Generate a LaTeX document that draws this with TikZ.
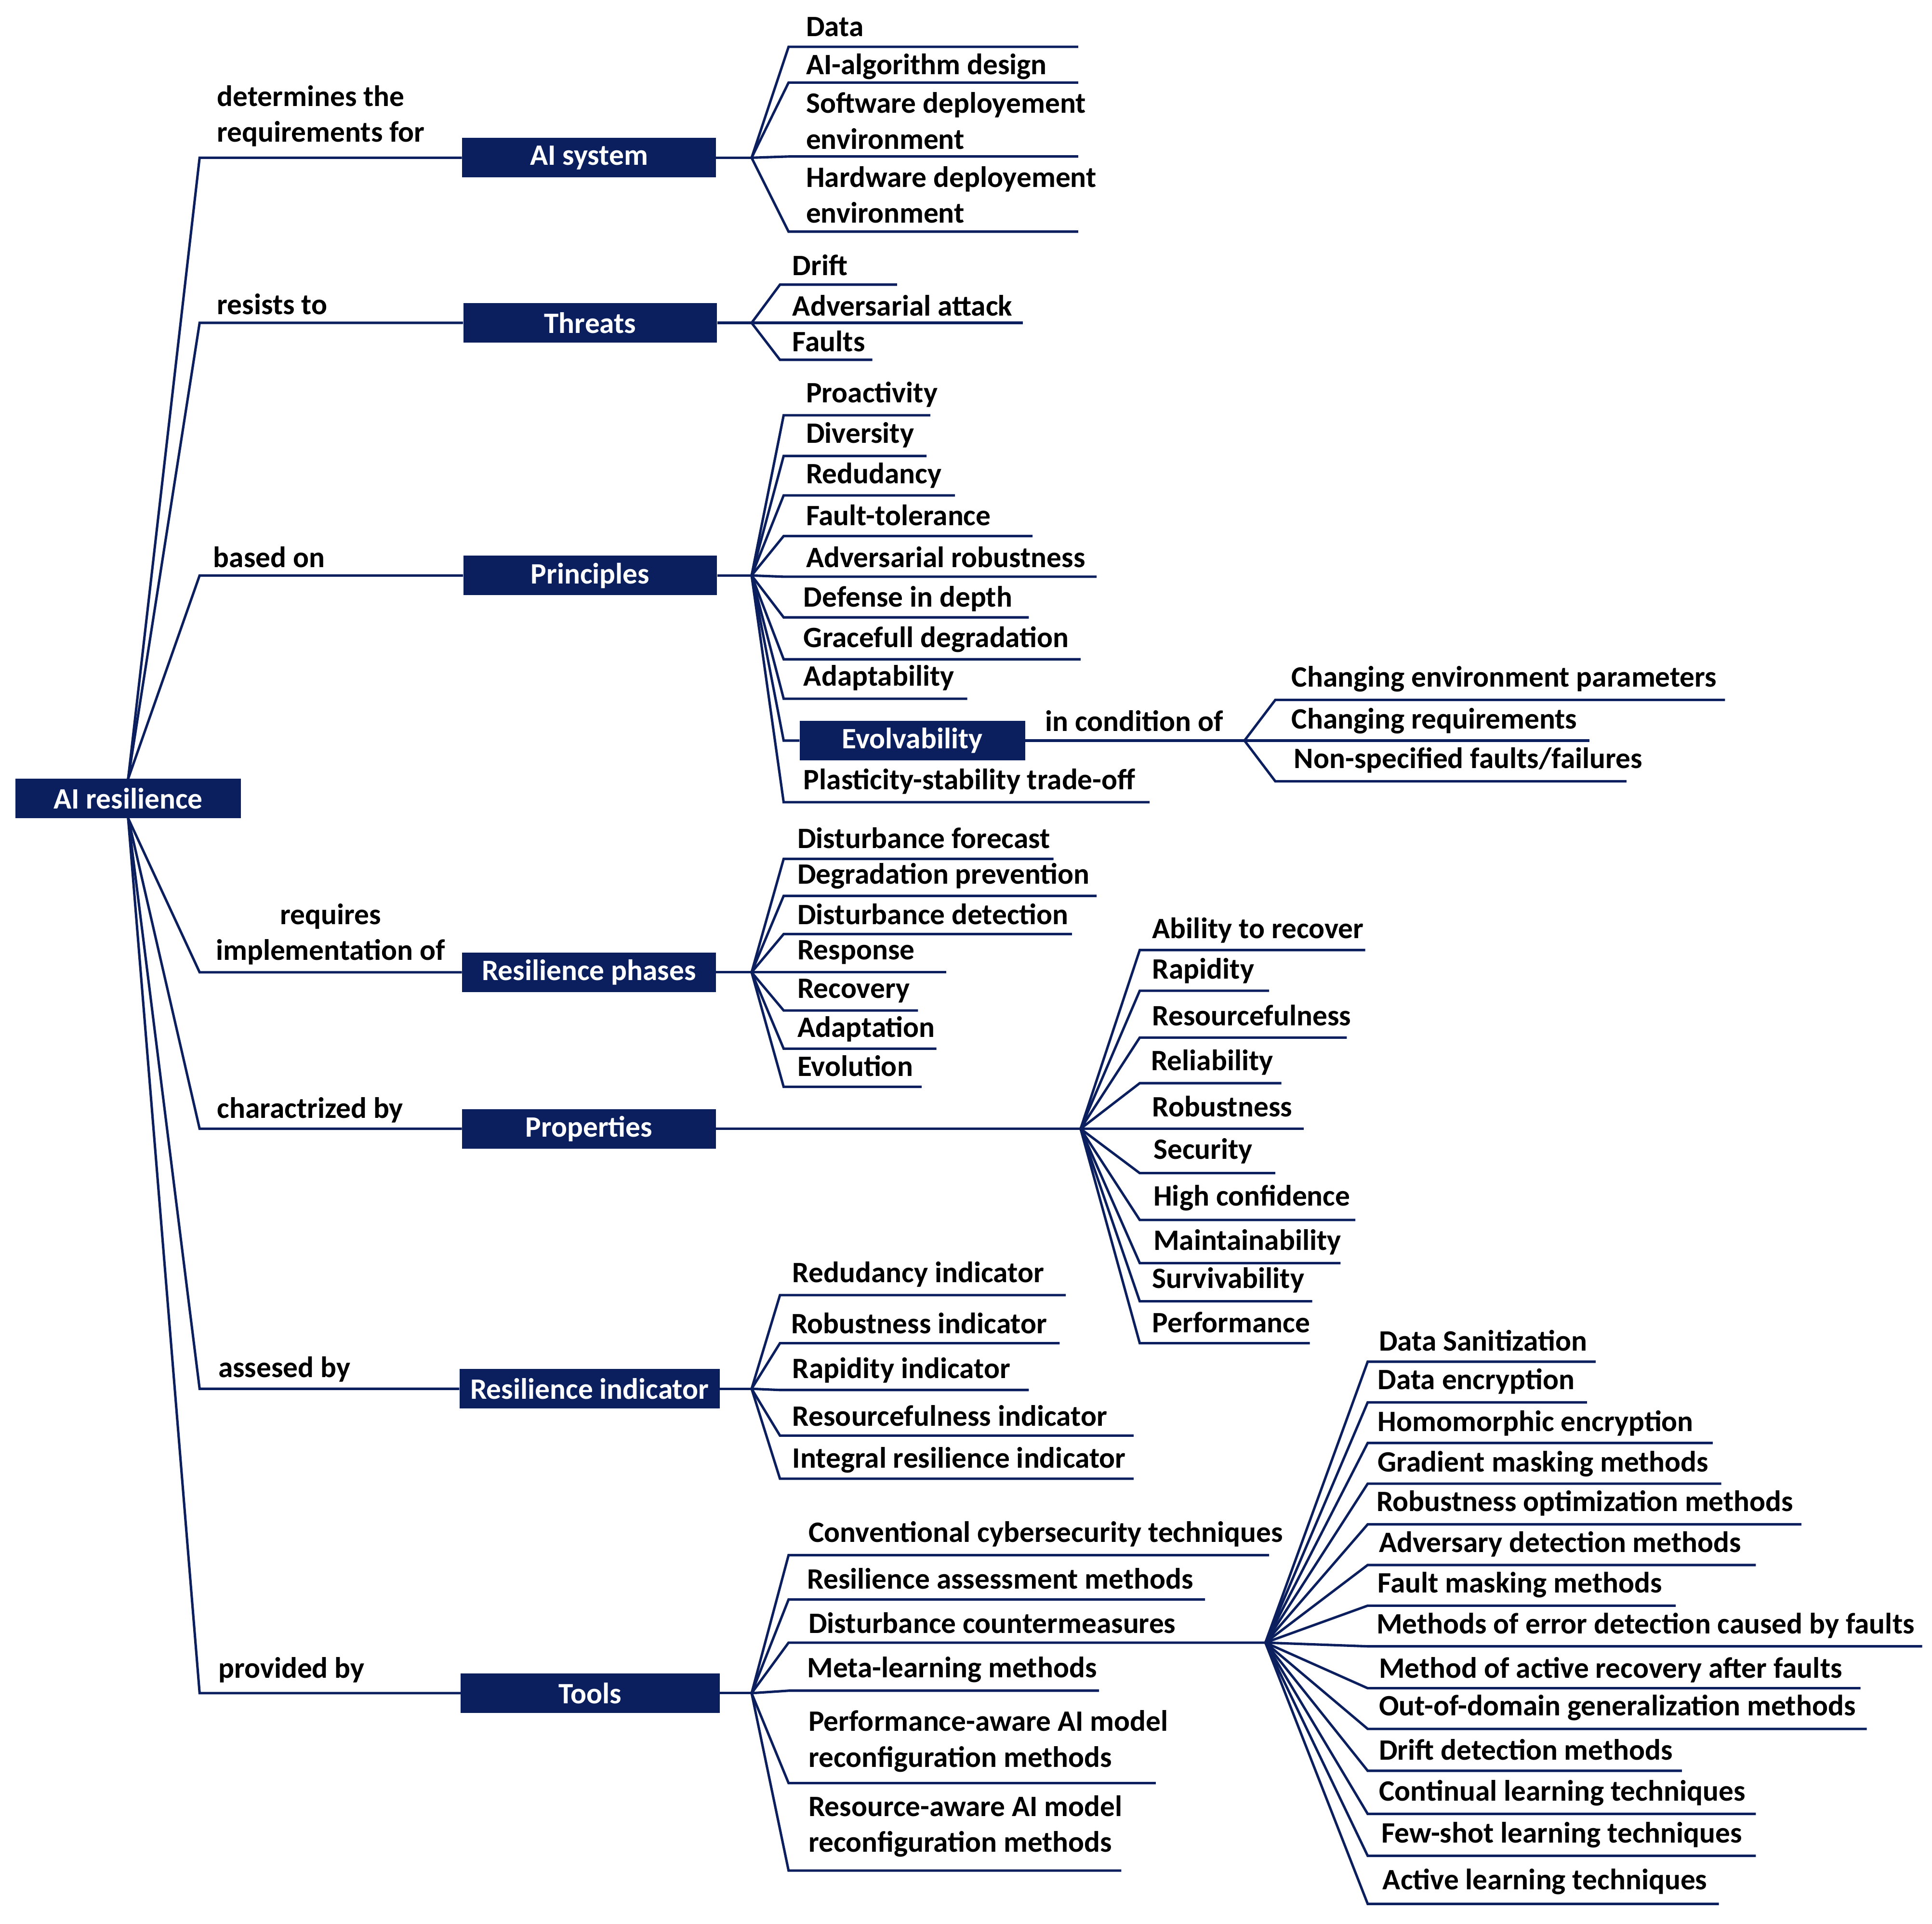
\documentclass[tikz,border=0pt]{standalone}
\usepackage{fontspec}
\setmainfont{Carlito}
\definecolor{navy}{HTML}{0B1F5E}
\begin{document}
\begin{tikzpicture}[x=1pt,y=-1pt,
  ln/.style={draw=navy,line width=2pt},
  box/.style={fill=navy,draw=none,text=white,font=\fontsize{24}{26}\selectfont\bfseries,inner sep=0,minimum height=32pt},
  lbl/.style={anchor=west,inner sep=0,font=\fontsize{24}{29}\selectfont\bfseries,text=black,align=left}]
\path[use as bounding box] (0,0) rectangle (1568,1561);
\newcommand\leafitem[7]{% hub, ly, lx, rx, text, tx, ty
  \coordinate (L#1#2) at (#3,#2); \coordinate (R#1#2) at (#4,#2);
  \draw[ln] (#1) -- (L#1#2) -- (R#1#2);
  \node[lbl] (T#1#2) at (#6,#7) {#5};}
% root
\node[box,minimum width=183pt] (root) at (104,648) {AI resilience};
\coordinate (rt) at (104,632); \coordinate (rb) at (104,664);
\newcommand\branch[5]{% name, y, text, xl, xr
  \node[box,minimum width=#5pt-#4pt] (#1) at ({(#4+#5)/2},#2) {#3};
  \coordinate (b#1) at (162,#2);
  \coordinate (h#1) at (610,#2);}
\branch{ais}{128}{AI system}{375}{581}
\branch{thr}{262}{Threats}{376}{582}
\branch{pri}{467}{Principles}{376}{582}
\branch{rph}{789}{Resilience phases}{375}{581}
\branch{pro}{916}{Properties}{375}{581}
\branch{rin}{1127}{Resilience indicator}{373}{584}
\branch{too}{1374}{Tools}{374}{584}
\foreach \n in {ais,thr,pri} {\draw[ln] (rt) -- (b\n) -- (\n.west); \draw[ln] (\n.east) -- (h\n);}
\foreach \n in {rph,pro,rin,too} {\draw[ln] (rb) -- (b\n) -- (\n.west);}
\foreach \n in {rph,rin,too} {\draw[ln] (\n.east) -- (h\n);}
\node[lbl] (l1) at (176,94) {determines the\\requirements for};
\node[lbl] (l2) at (176,247) {resists to};
\node[lbl] (l3) at (173,452) {based on};
\node[lbl,align=center] (l4) at (175,758) {requires\\implementation of};
\node[lbl] (l5) at (176,901) {charactrized by};
\node[lbl] (l6) at (177,1111) {assesed by};
\node[lbl] (l7) at (177,1355) {provided by};
% AI system
\leafitem{hais}{38}{640}{875}{Data}{654}{22}
\leafitem{hais}{67}{640}{875}{AI-algorithm design}{654}{54}
\leafitem{hais}{127}{640}{875}{Software deployement\\environment}{654}{98}
\leafitem{hais}{188}{640}{875}{Hardware deployement\\environment}{654}{158}
% Threats
\leafitem{hthr}{231}{633}{728}{Drift}{643}{215}
\leafitem{hthr}{262}{633}{830}{Adversarial attack}{643}{248}
\leafitem{hthr}{292}{633}{708}{Faults}{643}{277}
% Principles
\leafitem{hpri}{337}{636}{755}{Proactivity}{654}{320}
\leafitem{hpri}{370}{636}{752}{Diversity}{654}{353}
\leafitem{hpri}{402}{636}{775}{Redudancy}{654}{386}
\leafitem{hpri}{435}{636}{838}{Fault-tolerance}{654}{418}
\leafitem{hpri}{468}{636}{890}{Adversarial robustness}{654}{452}
\leafitem{hpri}{501}{636}{835}{Defense in depth}{652}{486}
\leafitem{hpri}{535}{636}{877}{Gracefull degradation}{652}{519}
\leafitem{hpri}{567}{636}{785}{Adaptability}{652}{550}
\leafitem{hpri}{651}{636}{933}{Plasticity-stability trade-off}{652}{634}
\node[box,minimum width=183pt] (evo) at (740.5,601) {Evolvability};
\coordinate (evl) at (636,601);
\draw[ln] (hpri) -- (evl) -- (evo.west);
\coordinate (hevo) at (1010,601);
\draw[ln] (evo.east) -- (hevo);
\node[lbl] (l8) at (848,585) {in condition of};
\leafitem{hevo}{568}{1035}{1400}{Changing environment parameters}{1048}{551}
\leafitem{hevo}{601}{1035}{1290}{Changing requirements}{1048}{585}
\leafitem{hevo}{634}{1035}{1320}{Non-specified faults/failures}{1050}{617}
% Resilience phases
\leafitem{hrph}{697}{636}{855}{Disturbance forecast}{647}{680}
\leafitem{hrph}{727}{636}{890}{Degradation prevention}{647}{711}
\leafitem{hrph}{758}{636}{870}{Disturbance detection}{647}{742}
\leafitem{hrph}{789}{636}{768}{Response}{647}{773}
\leafitem{hrph}{820}{636}{745}{Recovery}{647}{804}
\leafitem{hrph}{851}{636}{760}{Adaptation}{647}{835}
\leafitem{hrph}{882}{636}{748}{Evolution}{647}{865}
% Properties
\coordinate (hpro) at (877,916);
\draw[ln] (pro.east) -- (hpro);
\leafitem{hpro}{771}{925}{1108}{Ability to recover}{935}{755}
\leafitem{hpro}{804}{925}{1030}{Rapidity}{935}{788}
\leafitem{hpro}{842}{925}{1093}{Resourcefulness}{935}{824}
\leafitem{hpro}{879}{925}{1040}{Reliability}{934}{862}
\leafitem{hpro}{916}{925}{1058}{Robustness}{935}{898}
\leafitem{hpro}{952}{925}{1035}{Security}{936}{934}
\leafitem{hpro}{990}{925}{1100}{High confidence}{936}{972}
\leafitem{hpro}{1025}{925}{1088}{Maintainability}{936}{1008}
\leafitem{hpro}{1056}{925}{1065}{Survivability}{935}{1039}
\leafitem{hpro}{1090}{925}{1063}{Performance}{935}{1073}
% Resilience indicator
\leafitem{hrin}{1051}{633}{865}{Redudancy indicator}{643}{1034}
\leafitem{hrin}{1090}{633}{860}{Robustness indicator}{642}{1074}
\leafitem{hrin}{1128}{633}{835}{Rapidity indicator}{643}{1112}
\leafitem{hrin}{1165}{633}{920}{Resourcefulness indicator}{643}{1149}
\leafitem{hrin}{1200}{633}{920}{Integral resilience indicator}{643}{1185}
% Tools
\leafitem{htoo}{1262}{640}{1030}{Conventional cybersecurity techniques}{656}{1245}
\leafitem{htoo}{1298}{640}{978}{Resilience assessment methods}{655}{1281}
\coordinate (hdc) at (1027,1333);
\leafitem{htoo}{1333}{640}{1027}{Disturbance countermeasures}{656}{1317}
\leafitem{htoo}{1372}{640}{892}{Meta-learning methods}{655}{1355}
\leafitem{htoo}{1447}{640}{938}{Performance-aware AI model\\reconfiguration methods}{656}{1413}
\leafitem{htoo}{1518}{640}{910}{Resource-aware AI model\\reconfiguration methods}{656}{1482}
\leafitem{hdc}{1105}{1110}{1295}{Data Sanitization}{1119}{1088}
\leafitem{hdc}{1138}{1110}{1288}{Data encryption}{1118}{1121}
\leafitem{hdc}{1171}{1110}{1390}{Homomorphic encryption}{1118}{1155}
\leafitem{hdc}{1204}{1110}{1397}{Gradient masking methods}{1118}{1188}
\leafitem{hdc}{1237}{1110}{1462}{Robustness optimization methods}{1117}{1220}
\leafitem{hdc}{1270}{1110}{1425}{Adversary detection methods}{1119}{1253}
\leafitem{hdc}{1303}{1110}{1360}{Fault masking methods}{1118}{1286}
\leafitem{hdc}{1336}{1110}{1560}{Methods of error detection caused by faults}{1117}{1319}
\leafitem{hdc}{1370}{1110}{1510}{Method of active recovery after faults}{1119}{1355}
\leafitem{hdc}{1403}{1110}{1515}{Out-of-domain generalization methods}{1119}{1386}
\leafitem{hdc}{1437}{1110}{1365}{Drift detection methods}{1119}{1420}
\leafitem{hdc}{1472}{1110}{1425}{Continual learning techniques}{1119}{1455}
\leafitem{hdc}{1506}{1110}{1425}{Few-shot learning techniques}{1121}{1489}
\leafitem{hdc}{1545}{1110}{1395}{Active learning techniques}{1122}{1527}
\end{tikzpicture}
\end{document}
